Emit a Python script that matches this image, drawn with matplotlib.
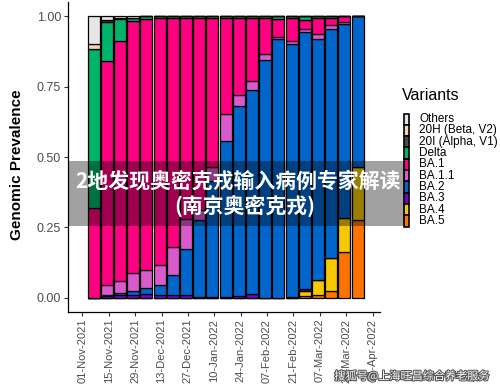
import numpy as np
import pandas as pd
import matplotlib
matplotlib.use("Agg")
import matplotlib.pyplot as plt
from matplotlib.patches import Rectangle
import matplotlib.patheffects as pe

plt.rcParams['font.family'] = ['Liberation Sans', 'DejaVu Sans']

# weekly bars
weeks = pd.date_range("2021-11-07", periods=21, freq="7D")

# shares per variant, one value per week
ba5 = [0, 0, 0, 0, 0, 0, 0, 0, 0, 0, 0, 0, 0, 0, 0, 0, 0.006, 0.010, 0.023, 0.162, 0.277]
ba4 = [0, 0, 0, 0, 0, 0, 0, 0, 0, 0, 0, 0, 0, 0, 0, 0, 0.018, 0.053, 0.118, 0.120, 0.187]
ba3 = [0, 0.005, 0.008, 0.010, 0.012, 0.010, 0.010, 0.008, 0.004, 0.003, 0.003, 0.006, 0.014, 0, 0, 0.004, 0.006, 0, 0, 0, 0]
ba2 = [0, 0.005, 0.008, 0.015, 0.021, 0.035, 0.071, 0.164, 0.272, 0.410, 0.555, 0.674, 0.725, 0.843, 0.920, 0.899, 0.914, 0.857, 0.814, 0.690, 0.536]
ba11 = [0, 0.035, 0.043, 0.062, 0.066, 0.071, 0.100, 0.107, 0.035, 0.050, 0.095, 0.041, 0.030, 0.024, 0.006, 0.010, 0.012, 0.017, 0.015, 0.008, 0]
ba1 = [0.318, 0.795, 0.852, 0.895, 0.891, 0.879, 0.814, 0.716, 0.684, 0.532, 0.342, 0.274, 0.226, 0.128, 0.064, 0.082, 0.029, 0.058, 0.025, 0.020, 0]
delta = [0.566, 0.138, 0.079, 0.013, 0.010, 0.005, 0.005, 0.005, 0.005, 0.005, 0.005, 0.005, 0.005, 0.005, 0.010, 0.005, 0.015, 0.005, 0.005, 0, 0]
alpha_v1 = [0, 0.008, 0.005, 0, 0, 0, 0, 0, 0, 0, 0, 0, 0, 0, 0, 0, 0, 0, 0, 0, 0]
beta_v2 = [0.018, 0, 0, 0, 0, 0, 0, 0, 0, 0, 0, 0, 0, 0, 0, 0, 0, 0, 0, 0, 0]
others = [0.098, 0.014, 0.005, 0.005, 0, 0, 0, 0, 0, 0, 0, 0, 0, 0, 0, 0, 0, 0, 0, 0, 0]

# legend order (top to bottom)
variants = ["Others", "20H (Beta, V2)", "20I (Alpha, V1)", "Delta", "BA.1",
            "BA.1.1", "BA.2", "BA.3", "BA.4", "BA.5"]
shares = [others, beta_v2, alpha_v1, delta, ba1, ba11, ba2, ba3, ba4, ba5]
colors = ["#e6e6e6", "#f7d3b0", "#4d4d4d", "#00b36b", "#ff0080",
          "#d95acb", "#0066cc", "#7a00c8", "#f5c800", "#ff7400"]

W, H = 500, 388
fig = plt.figure(figsize=(W / 100, H / 100), dpi=100)
ax = fig.add_axes([68 / W, 1 - 311.8 / H, (380 - 68) / W, 309.6 / H])

# stack from the bottom (last legend entry first)
bottom = np.zeros(len(weeks))
for name, vals, col in zip(variants[::-1], shares[::-1], colors[::-1]):
    vals = np.array(vals)
    ax.bar(weeks, vals, bottom=bottom, width=6.3, color=col,
           edgecolor='black', linewidth=0.9, label=name)
    bottom += vals

start = pd.Timestamp("2021-11-01")
ax.set_xlim(start - pd.Timedelta(days=7.6), start + pd.Timedelta(days=157.9))
ax.set_ylim(-0.05, 1.05)

xticks = pd.date_range("2021-11-01", "2022-04-04", freq="14D")
ax.set_xticks(xticks)
ax.set_xticklabels([t.strftime("%d-%b-%Y") for t in xticks], rotation=90)
ax.set_yticks([0, 0.25, 0.5, 0.75, 1.0])
ax.set_yticklabels(["0.00", "0.25", "0.50", "0.75", "1.00"])
ax.tick_params(labelsize=9, labelcolor='#4d4d4d', color='#333333', length=3, width=0.8, pad=2)
ax.tick_params(axis='x', labelsize=8)

for s in ['top', 'right']:
    ax.spines[s].set_visible(False)
for s in ['left', 'bottom']:
    ax.spines[s].set_linewidth(0.9)

fig.text(17 / W, 1 - 165 / H, "Genomic Prevalence", rotation=90, ha='center', va='center',
         fontsize=11, fontweight='bold', color='black')

# legend drawn by hand
fig.text(402 / W, 1 - 96 / H, "Variants", fontsize=11.5, ha='left', va='center')
key_top = 113.5
key_h = 11.3
for i, (name, col) in enumerate(zip(variants, colors)):
    y0 = key_top + i * key_h
    fig.patches.append(Rectangle((403.5 / W, 1 - (y0 + key_h) / H), 5.5 / W, key_h / H,
                                 transform=fig.transFigure, facecolor=col,
                                 edgecolor='black', linewidth=1.2))
    fig.text(419 / W, 1 - (y0 + key_h / 2) / H, name, fontsize=8.5, ha='left', va='center')

# overlay caption band
fig.patches.append(Rectangle((68 / W, 1 - 226 / H), (405 - 68) / W, 65 / H,
                             transform=fig.transFigure, facecolor='black', alpha=0.37,
                             edgecolor='none'))
fig.text(238 / W, 1 - 181 / H, "2地发现奥密克戎输入病例专家解读", fontsize=15, fontweight='bold',
         color='white', ha='center', va='center', family=['Noto Sans CJK SC', 'DejaVu Sans'])
fig.text(245 / W, 1 - 206 / H, "(南京奥密克戎)", fontsize=15, fontweight='bold',
         color='white', ha='center', va='center', family=['Noto Sans CJK SC', 'DejaVu Sans'])

# watermark
fig.text(412 / W, 1 - 376 / H, "搜狐号@上海旺昌综合养老服务", fontsize=8, color='white',
         ha='center', va='center', family=['Noto Sans CJK SC', 'DejaVu Sans'],
         path_effects=[pe.withStroke(linewidth=1.5, foreground='#555555')])

fig.savefig("out.png", dpi=100)
